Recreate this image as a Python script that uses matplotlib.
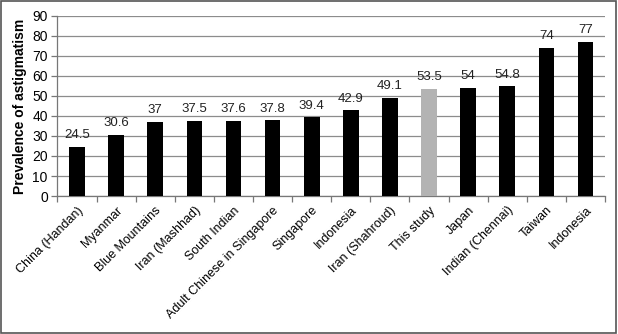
import matplotlib
matplotlib.use("Agg")
import matplotlib.pyplot as plt
from matplotlib.patches import Rectangle
import numpy as np

plt.rcParams["font.family"] = ["Liberation Sans", "DejaVu Sans"]

STUDIES = ["China (Handan)", "Myanmar", "Blue Mountains", "Iran (Mashhad)", "South Indian",
           "Adult Chinese in Singapore", "Singapore", "Indonesia", "Iran (Shahroud)",
           "This study", "Japan", "Indian (Chennai)", "Taiwan", "Indonesia"]
PREVALENCE = [24.5, 30.6, 37, 37.5, 37.6, 37.8, 39.4, 42.9, 49.1, 53.5, 54, 54.8, 74, 77]
LABELS = ["24.5", "30.6", "37", "37.5", "37.6", "37.8", "39.4", "42.9", "49.1",
          "53.5", "54", "54.8", "74", "77"]
HIGHLIGHT = "This study"

fig = plt.figure(figsize=(6.18, 3.34), dpi=100)
ax = fig.add_axes([0.093, 0.413, 0.886, 0.54])

x = np.arange(len(STUDIES))
colors = ["#b3b3b3" if s == HIGHLIGHT else "black" for s in STUDIES]
ax.bar(x, PREVALENCE, width=0.4, color=colors, zorder=3)
for xi, v, lab in zip(x, PREVALENCE, LABELS):
    ax.annotate(lab, (xi, v), xytext=(0, 4), textcoords="offset points",
                ha="center", va="bottom", fontsize=9.5, color="#222222")

ax.set_xlim(-0.5, len(STUDIES) - 0.5)
ax.set_ylim(0, 90)
ax.set_yticks(range(0, 91, 10))
ax.yaxis.grid(True, color="#8c8c8c", lw=0.9, zorder=0)
ax.set_axisbelow(True)

ax.set_xticks(x)
ax.set_xticklabels(STUDIES, rotation=45, ha="right", rotation_mode="anchor", fontsize=9)
ax.tick_params(axis="x", length=0, pad=6)
ax.set_xticks(np.arange(-0.5, len(STUDIES), 1), minor=True)
ax.tick_params(axis="x", which="minor", length=4, color="#777777", width=0.9)
ax.tick_params(axis="y", labelsize=10, length=4, color="#777777", width=0.9, pad=3)

for side in ["top", "right"]:
    ax.spines[side].set_visible(False)
for side in ["left", "bottom"]:
    ax.spines[side].set_color("#777777")
    ax.spines[side].set_linewidth(0.9)

ax.set_ylabel("Prevalence of astigmatism", fontsize=10, fontweight="bold", labelpad=4)

fig.patches.append(Rectangle((0.002, 0.003), 0.995, 0.994, transform=fig.transFigure,
                             fill=False, edgecolor="#555555", lw=1.2))

fig.savefig("out.png", dpi=100)
